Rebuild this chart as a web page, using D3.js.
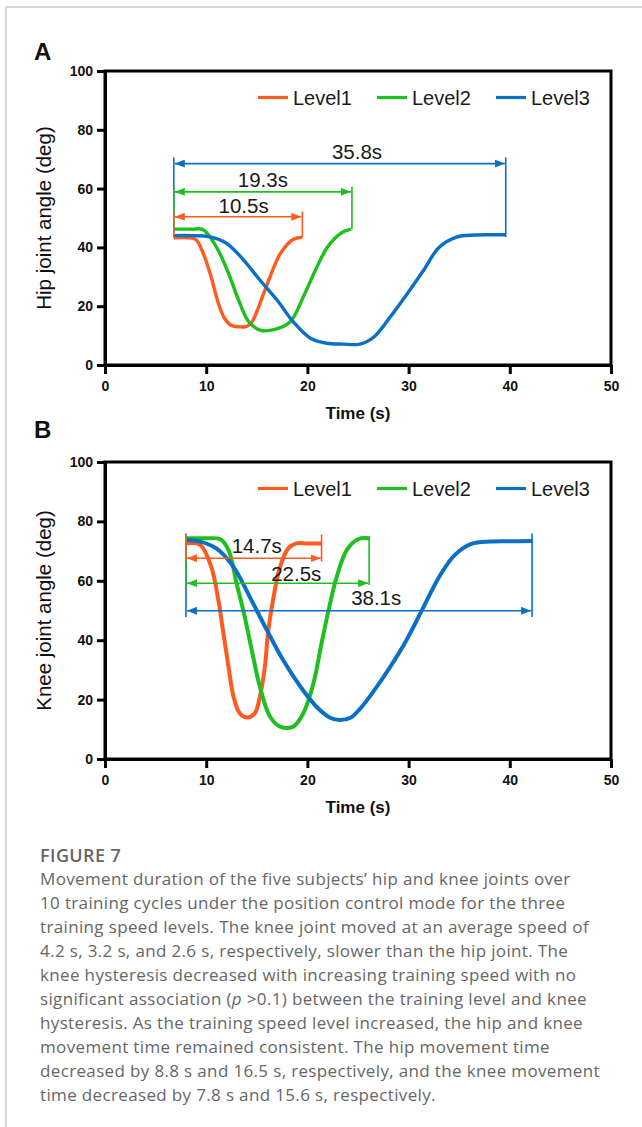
<!DOCTYPE html>
<meta charset="utf-8">
<script src="https://d3js.org/d3.v7.min.js"></script>
<style>
  body { margin: 0; background: #fff; }
</style>
<div id="fig"></div>
<script>

// levels and colours
const levels = ["Level1", "Level2", "Level3"];
const colors = ["#ff5a1f", "#1ebf1e", "#0b6fc3"];
const timeTicks = [0, 10, 20, 30, 40, 50];
const angleTicks = [0, 20, 40, 60, 80, 100];

// Panel A: hip joint angle, [time (s), angle (deg)]
const hipLevel1 = [[6.8,43.3],[8.2,43.3],[9.0,42.6],[9.7,38],[10.4,31],[11.2,21],[11.8,16],[12.5,13.4],[13.2,13.0],
  [14.0,13.1],[14.5,14.5],[15.1,19],[15.7,24.5],[16.7,33.4],[17.3,37.8],[17.8,40.2],[18.5,42.5],[19.0,43.2],[19.5,43.4]];
const hipLevel2 = [[6.8,46.2],[8.5,46.2],[9.7,46],[11.0,40.2],[12.2,31.2],[13.2,22.1],[14.2,14.7],[15.3,11.9],[16.7,12.0],
  [18.3,14.7],[19.6,23.2],[20.8,32.3],[22.0,40.2],[23.3,44.8],[24.3,46.2]];
const hipLevel3 = [[6.8,44.0],[8.5,44.0],[10.4,43.6],[12.0,41.4],[13.7,35.7],[15.3,28.9],[17.0,22.1],[18.6,14.7],[20.3,9.1],
  [21.9,7.4],[23.5,7.1],[25.2,7.1],[26.6,9.6],[28.2,16.4],[29.9,24.4],[31.5,32.3],[33.0,40],[34.8,43.6],[36.5,44.2],[38.0,44.3],[39.6,44.3]];

// Panel B: knee joint angle, [time (s), angle (deg)]
const kneeLevel1 = [[8.07,72.6],[9.4,72.1],[10.5,64.7],[11.2,53.5],[11.7,42.3],[12.2,31.1],[12.7,21.0],[13.3,15.4],[14.0,14.0],
  [14.8,15.4],[15.3,21.0],[15.8,31.1],[16.1,42.3],[16.6,53.5],[17.3,64.7],[18.1,70.9],[18.9,72.6],[20.0,72.6],[21.4,72.6]];
const kneeLevel2 = [[8.07,74.3],[10.0,74.3],[11.4,74.0],[12.2,70.4],[13.0,59.2],[13.8,48.0],[14.5,36.7],[15.3,24.4],[16.3,14.3],
  [17.3,10.9],[18.6,10.9],[19.6,15.4],[20.6,25.5],[21.4,39],[22.1,50.2],[22.9,61.4],[23.9,70.4],[25.0,74],[26.2,74.3]];
const kneeLevel3 = [[8.07,73.7],[9.4,73.2],[11.0,70.9],[12.7,64.7],[14.3,54.6],[16.0,43.4],[17.6,33.3],[19.3,24.4],[20.9,17.6],
  [22.2,14.0],[23.2,13.1],[24.3,14.0],[25.3,17.3],[26.5,22.6],[28.2,31.1],[29.8,40.1],[31.5,51.3],[33.1,61.8],[34.6,68.8],[36.2,72.4],
  [38.1,73.2],[40.0,73.3],[42.2,73.4]];

// duration brackets: level index, start/end time, arrow angle, vertical span, label
const hipBrackets = [
  {level: 2, t0: 6.8, t1: 39.6, arrow: 68.5, lo: 43.5, hi: 70.6, label: "35.8s", lt: 24.9, ly: 70.2},
  {level: 1, t0: 6.8, t1: 24.4, arrow: 58.9, lo: 46.1, hi: 60.6, label: "19.3s", lt: 15.6, ly: 60.6},
  {level: 0, t0: 6.8, t1: 19.5, arrow: 50.4, lo: 43.4, hi: 52.2, label: "10.5s", lt: 13.7, ly: 51.8}
];
const kneeBrackets = [
  {level: 2, t0: 8.0, t1: 42.2, arrow: 49.9, lo: 47.8, hi: 75.9, label: "38.1s", lt: 26.8, ly: 51.7},
  {level: 1, t0: 8.0, t1: 26.1, arrow: 59.2, lo: 58.6, hi: 74.4, label: "22.5s", lt: 18.9, ly: 60.0},
  {level: 0, t0: 8.0, t1: 21.4, arrow: 67.6, lo: 66.5, hi: 75.6, label: "14.7s", lt: 15.0, ly: 69.5}
];

const captionTitle = "FIGURE 7";
const captionLines = [
  "Movement duration of the five subjects\u2019 hip and knee joints over",
  "10 training cycles under the position control mode for the three",
  "training speed levels. The knee joint moved at an average speed of",
  "4.2 s, 3.2 s, and 2.6 s, respectively, slower than the hip joint. The",
  "knee hysteresis decreased with increasing training speed with no",
  "significant association (|p| >0.1) between the training level and knee",
  "hysteresis. As the training speed level increased, the hip and knee",
  "movement time remained consistent. The hip movement time",
  "decreased by 8.8 s and 16.5 s, respectively, and the knee movement",
  "time decreased by 7.8 s and 15.6 s, respectively."
];

const W = 642, H = 1127;
const svg = d3.select("#fig").append("svg")
  .attr("width", W).attr("height", H)
  .style("font-family", "'Liberation Sans', Arial, sans-serif");

// figure frame (top and left)
svg.append("path")
  .attr("d", `M6,${H} V7 H${W}`)
  .attr("fill", "none").attr("stroke", "#d9d9d9").attr("stroke-width", 2);

// arrowhead markers
const defs = svg.append("defs");
colors.forEach((c, i) => {
  defs.append("marker")
    .attr("id", "arr" + i)
    .attr("viewBox", "0 0 10 8")
    .attr("refX", 10).attr("refY", 4)
    .attr("markerWidth", 10).attr("markerHeight", 8)
    .attr("markerUnits", "userSpaceOnUse")
    .attr("orient", "auto-start-reverse")
    .append("path").attr("d", "M0,0 L10,4 L0,8 Z").attr("fill", c);
});

function panel(opt) {
  const x = d3.scaleLinear().domain([0, 50]).range([105, 611]);
  const y = d3.scaleLinear().domain([0, 100]).range([opt.bottom, opt.top]);
  const g = svg.append("g");

  // panel letter
  g.append("text").attr("x", 34).attr("y", opt.letterY)
    .attr("font-size", 24).attr("font-weight", "bold").attr("fill", "#111")
    .text(opt.letter);

  // curves
  const line = d3.line().x(d => x(d[0])).y(d => y(d[1])).curve(d3.curveCatmullRom.alpha(0.5));
  opt.series.forEach((s, i) => {
    g.append("path").datum(s)
      .attr("d", line)
      .attr("fill", "none")
      .attr("stroke", colors[i])
      .attr("stroke-width", opt.lw)
      .attr("stroke-linejoin", "round");
  });

  // duration brackets
  opt.brackets.forEach(b => {
    const c = colors[b.level];
    [b.t0, b.t1].forEach(t => {
      g.append("line")
        .attr("x1", x(t)).attr("x2", x(t))
        .attr("y1", y(b.hi)).attr("y2", y(b.lo))
        .attr("stroke", c).attr("stroke-width", 1.6);
    });
    g.append("line")
      .attr("x1", x(b.t0) + 1).attr("x2", x(b.t1) - 1)
      .attr("y1", y(b.arrow)).attr("y2", y(b.arrow))
      .attr("stroke", c).attr("stroke-width", 1.6)
      .attr("marker-start", `url(#arr${b.level})`)
      .attr("marker-end", `url(#arr${b.level})`);
    g.append("text")
      .attr("x", x(b.lt)).attr("y", y(b.ly))
      .attr("text-anchor", "middle")
      .attr("font-size", 20.5).attr("fill", "#1a1a1a")
      .text(b.label);
  });

  // frame
  g.append("rect")
    .attr("x", x(0)).attr("y", y(100))
    .attr("width", x(50) - x(0)).attr("height", y(0) - y(100))
    .attr("fill", "none").attr("stroke", "#000").attr("stroke-width", 3);

  // axes
  const yAxis = g.append("g")
    .attr("transform", `translate(${x(0)},0)`)
    .call(d3.axisLeft(y).tickValues(angleTicks).tickSize(8).tickPadding(4).tickSizeOuter(0));
  const xAxis = g.append("g")
    .attr("transform", `translate(0,${y(0)})`)
    .call(d3.axisBottom(x).tickValues(timeTicks).tickSize(9).tickPadding(7).tickSizeOuter(0));
  [xAxis, yAxis].forEach(a => {
    a.selectAll("path, line").attr("stroke", "#000").attr("stroke-width", 3);
    a.selectAll("text").attr("font-size", 14).attr("font-weight", "bold")
      .attr("fill", "#111").style("font-family", "'Liberation Sans', Arial, sans-serif");
  });

  // axis titles
  g.append("text")
    .attr("x", 358).attr("y", y(0) + 54)
    .attr("text-anchor", "middle")
    .attr("font-size", 17).attr("font-weight", "bold").attr("fill", "#111")
    .text("Time (s)");
  g.append("text")
    .attr("transform", `translate(51,${(y(0) + y(100)) / 2}) rotate(-90)`)
    .attr("text-anchor", "middle")
    .attr("font-size", 20.5).attr("fill", "#111")
    .text(opt.ylabel);

  // legend
  const legX = [258, 377, 496];
  levels.forEach((lv, i) => {
    const ly = y(100) + 26.5;
    g.append("line")
      .attr("x1", legX[i]).attr("x2", legX[i] + 30)
      .attr("y1", ly).attr("y2", ly)
      .attr("stroke", colors[i]).attr("stroke-width", 3.2);
    g.append("text")
      .attr("x", legX[i] + 35).attr("y", ly + 7.6)
      .attr("font-size", 20).attr("fill", "#1a1a1a")
      .text(lv);
  });
}

panel({letter: "A", letterY: 60, top: 71, bottom: 365, lw: 3.4,
  series: [hipLevel1, hipLevel2, hipLevel3], brackets: hipBrackets,
  ylabel: "Hip joint angle (deg)"});
panel({letter: "B", letterY: 438, top: 462, bottom: 759, lw: 4,
  series: [kneeLevel1, kneeLevel2, kneeLevel3], brackets: kneeBrackets,
  ylabel: "Knee joint angle (deg)"});

// caption
const cap = svg.append("g").style("font-family", "'Open Sans', sans-serif").attr("fill", "#666");
cap.append("text").attr("x", 40).attr("y", 862)
  .attr("font-size", 18).attr("font-weight", 600).attr("letter-spacing", 0.4).text(captionTitle);
captionLines.forEach((ln, i) => {
  const t = cap.append("text").attr("x", 40).attr("y", 885 + i * 24)
    .attr("font-size", 17).attr("letter-spacing", 0.35);
  ln.split("|").forEach((part, j) => {
    t.append("tspan").attr("font-style", j % 2 ? "italic" : null).text(part);
  });
});

</script>
